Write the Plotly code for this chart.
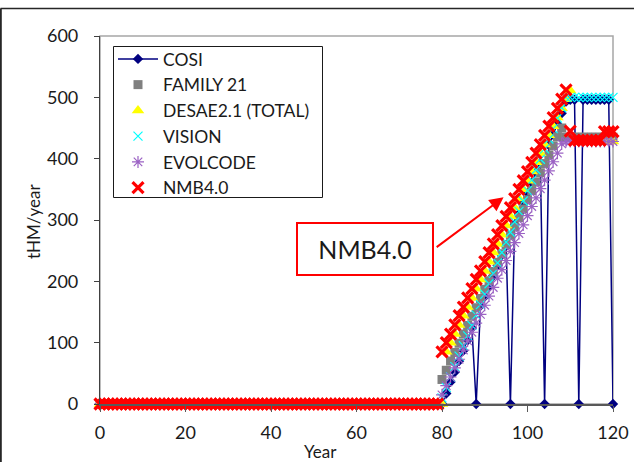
import plotly.graph_objects as go

years = list(range(0, 121))

# values for years 0..79 are all zero for every code
zeros_0_79 = [0] * 80

# values for years 80..120
cosi_80_120 = [0, 17, 36, 52, 70, 87, 104, 124, 0, 160, 175, 192, 209, 226, 243, 258,
               0, 293, 310, 327, 344, 361, 378, 393, 0, 422, 439, 456, 474, 493,
               496, 496, 0, 496, 496, 496, 496, 496, 496, 496, 0]
family21_80_120 = [40, 55, 70, 84, 99, 114, 128, 143, 157, 172, 187, 201, 216, 231, 245,
                   260, 275, 289, 304, 318, 333, 348, 362, 377, 392, 406, 421, 436, 450,
                   435, 435, 435, 435, 435, 435, 435, 435, 435, 435, 435, 435]
desae_80_120 = [0, 85, 100, 114, 129, 144, 158, 173, 188, 203, 217, 232, 247, 261, 276,
                291, 306, 320, 335, 350, 364, 379, 394, 409, 423, 438, 453, 467, 482,
                497, 511, 428, 428, 428, 428, 428, 428, 428, 428, 428, 428]
vision_80_120 = [10, 27, 44, 61, 78, 95, 111, 128, 145, 162, 179, 196, 213, 230, 247,
                 264, 280, 297, 314, 331, 348, 365, 382, 399, 416, 432, 449, 466, 483,
                 500, 500, 500, 500, 500, 500, 500, 500, 500, 500, 500, 500]
evolcode_80_120 = [15, 30, 44, 59, 73, 88, 103, 117, 132, 146, 161, 176, 190, 205, 219,
                   234, 249, 263, 278, 292, 307, 322, 336, 351, 365, 380, 395, 409, 424,
                   428, 428, 428, 428, 428, 428, 428, 428, 428, 428, 428, 428]
nmb_80_120 = [85, 100, 114, 129, 144, 158, 173, 188, 203, 217, 232, 247, 261, 276, 291,
              306, 320, 335, 350, 364, 379, 394, 409, 423, 438, 453, 467, 482, 497, 512,
              445, 430, 430, 430, 430, 430, 430, 430, 444, 444, 444]

cosi = zeros_0_79 + cosi_80_120
family21 = zeros_0_79 + family21_80_120
desae = zeros_0_79 + desae_80_120
vision = zeros_0_79 + vision_80_120
evolcode = zeros_0_79 + evolcode_80_120
nmb = zeros_0_79 + nmb_80_120

y_ticks = [0, 100, 200, 300, 400, 500, 600]
x_ticks = [0, 20, 40, 60, 80, 100, 120]

FONT = "Lato"
fig = go.Figure()
fig.add_trace(go.Scatter(x=years, y=cosi, name="COSI", mode="lines+markers",
                         line=dict(color="#000080", width=1.5),
                         marker=dict(symbol="diamond", size=8, color="#000080"),
                         cliponaxis=False))
fig.add_trace(go.Scatter(x=years, y=family21, name="FAMILY 21", mode="markers",
                         marker=dict(symbol="square", size=9, color="#808080"),
                         cliponaxis=False))
fig.add_trace(go.Scatter(x=years, y=desae, name="DESAE2.1 (TOTAL)", mode="markers",
                         marker=dict(symbol="triangle-up", size=11, color="#FFFF00"),
                         cliponaxis=False))
fig.add_trace(go.Scatter(x=years, y=vision, name="VISION", mode="markers",
                         marker=dict(symbol="x-thin", size=9, color="#00FFFF",
                                     line=dict(color="#00FFFF", width=1.2)),
                         cliponaxis=False))
fig.add_trace(go.Scatter(x=years, y=evolcode, name="EVOLCODE", mode="markers",
                         marker=dict(symbol="asterisk", size=10, color="#9B62C4",
                                     line=dict(color="#9B62C4", width=1.2)),
                         cliponaxis=False))
fig.add_trace(go.Scatter(x=years, y=nmb, name="NMB4.0", mode="markers",
                         marker=dict(symbol="x-thin", size=11, color="#FF0000",
                                     line=dict(color="#FF0000", width=3.2)),
                         cliponaxis=False))

L, R, T, B = 100, 21, 36, 58
W, H = 634, 462
pw, ph = W - L - R, H - T - B

def px_to_paper_x(px):
    return (px - L) / pw

def px_to_paper_y(py):
    return (H - B - py) / ph

fig.update_layout(
    width=W, height=H,
    margin=dict(l=L, r=R, t=T, b=B, pad=0, autoexpand=False),
    paper_bgcolor="white", plot_bgcolor="white",
    font=dict(family=FONT, size=17, color="#1a1a1a"),
    showlegend=True,
    legend=dict(x=px_to_paper_x(113), y=px_to_paper_y(41), xanchor="left", yanchor="top",
                bgcolor="rgba(0,0,0,0)", borderwidth=0,
                font=dict(family=FONT, size=17.5, color="#1a1a1a"),
                itemwidth=40, tracegroupgap=0),
    xaxis=dict(range=[0, 120], tickvals=x_ticks, showgrid=False, zeroline=False,
               showline=True, linecolor="#595959", linewidth=1.5,
               ticks="outside", ticklen=6, tickcolor="#595959",
               ticklabelstandoff=6, automargin=False,
               tickfont=dict(family=FONT, size=18, color="#1a1a1a")),
    yaxis=dict(range=[0, 600], tickvals=y_ticks, showgrid=False, zeroline=False,
               showline=True, linecolor="#404040", linewidth=1.2,
               ticks="outside", ticklen=5, tickcolor="#404040",
               ticklabelstandoff=12, automargin=False,
               tickfont=dict(family=FONT, size=18, color="#1a1a1a")),
    shapes=[
        dict(type="rect", xref="paper", yref="paper", x0=0, y0=0, x1=1, y1=1,
             line=dict(color="#A6A6A6", width=1.5), layer="below"),
        # legend frame
        dict(type="rect", xref="paper", yref="paper",
             x0=px_to_paper_x(113.5), x1=px_to_paper_x(322.5),
             y0=px_to_paper_y(197.5), y1=px_to_paper_y(46.5),
             line=dict(color="#1a1a1a", width=1), fillcolor="white", layer="below"),
        dict(type="line", xref="paper", yref="paper",
             x0=px_to_paper_x(0.5), x1=px_to_paper_x(634),
             y0=px_to_paper_y(8.5), y1=px_to_paper_y(8.5),
             line=dict(color="#262626", width=1.5)),
        dict(type="line", xref="paper", yref="paper",
             x0=px_to_paper_x(0.8), x1=px_to_paper_x(0.8),
             y0=px_to_paper_y(8.5), y1=px_to_paper_y(462),
             line=dict(color="#262626", width=2)),
    ],
    annotations=[
        dict(text="Year", xref="paper", yref="paper", x=px_to_paper_x(320),
             y=px_to_paper_y(451), xanchor="center", yanchor="middle", showarrow=False,
             font=dict(family=FONT, size=17, color="#1a1a1a")),
        dict(text="tHM/year", xref="paper", yref="paper", x=px_to_paper_x(33),
             y=px_to_paper_y(222), xanchor="center", yanchor="middle",
             showarrow=False, textangle=-90,
             font=dict(family=FONT, size=17, color="#1a1a1a")),
        dict(text="NMB4.0", xref="paper", yref="paper", x=px_to_paper_x(365),
             y=px_to_paper_y(249), xanchor="center", yanchor="middle",
             showarrow=False, width=134, height=50,
             bordercolor="#FF0000", borderwidth=2, borderpad=0, bgcolor="white",
             font=dict(family=FONT, size=25, color="#1a1a1a")),
        dict(text="", xref="x", yref="y", axref="x", ayref="y",
             x=94.4, y=337, ax=78.4, ay=254, showarrow=True,
             arrowhead=2, arrowsize=1.4, arrowwidth=2, arrowcolor="#FF0000",
             standoff=0, startstandoff=0),
    ],
)

fig.write_html("out.html")
